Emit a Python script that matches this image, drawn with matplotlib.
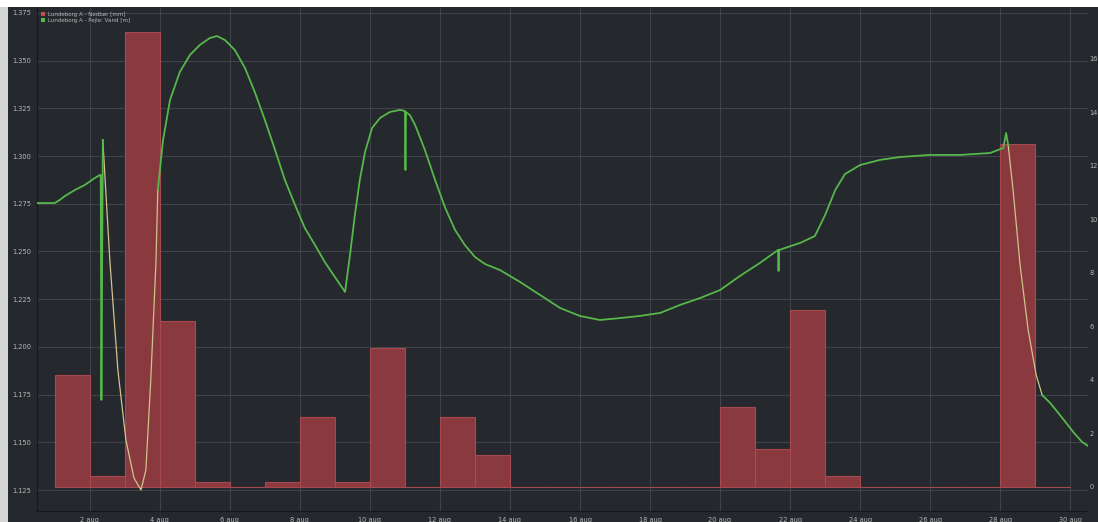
import matplotlib.pyplot as plt
from matplotlib.patches import Rectangle, Patch

# daglig nedbør (mm), dag i august
rain_days = [1, 2, 3, 4, 5, 6, 7, 8, 9, 10, 11, 12, 13, 14, 15, 16, 17, 18, 19,
             20, 21, 22, 23, 24, 25, 26, 27, 28, 29]
rain_mm = [4.2, 0.4, 17.0, 6.2, 0.2, 0.0, 0.2, 2.6, 0.2, 5.2, 0.0, 2.6, 1.2, 0.0, 0.0,
           0.0, 0.0, 0.0, 0.0, 3.0, 1.4, 6.6, 0.4, 0.0, 0.0, 0.0, 0.0, 12.8, 0.0]

# vandstand (m), målte stykker
lvl1_days = [0.49, 1.0, 1.14, 1.29, 1.57, 1.86, 2.14, 2.29, 2.31, 2.33, 2.35, 2.37]
lvl1_vals = [1.2754, 1.2754, 1.2770, 1.2791, 1.2822, 1.2849, 1.2885, 1.2901, 1.2901,
             1.1722, 1.2400, 1.3084]

lvl2_days = [3.94, 4.09, 4.29, 4.57, 4.86, 5.14, 5.43, 5.63, 5.86, 6.14, 6.43, 6.71,
             7.0, 7.29, 7.57, 7.86, 8.14, 8.43, 8.71, 9.0, 9.29, 9.43, 9.57, 9.71,
             9.86, 10.06, 10.29, 10.57, 10.86, 11.0, 11.014, 11.03, 11.14, 11.29,
             11.57, 11.86, 12.14, 12.43, 12.71, 13.0, 13.29, 13.71, 14.29, 14.86,
             15.43, 16.0, 16.57, 17.14, 17.71, 18.29, 18.86, 19.43, 20.0, 20.57,
             21.14, 21.657, 21.671, 21.686, 22.29, 22.71, 23.0, 23.29, 23.57, 24.0,
             24.57, 25.14, 26.0, 26.86, 27.71, 28.09, 28.17, 28.23]
lvl2_vals = [1.2822, 1.3084, 1.3294, 1.3441, 1.3530, 1.3582, 1.3619, 1.3629, 1.3608,
             1.3556, 1.3462, 1.3336, 1.3189, 1.3032, 1.2875, 1.2744, 1.2623, 1.2534,
             1.2445, 1.2366, 1.2288, 1.2482, 1.2691, 1.2875, 1.3021, 1.3147, 1.3200,
             1.3231, 1.3242, 1.3236, 1.2927, 1.3231, 1.3215, 1.3163, 1.3032, 1.2875,
             1.2733, 1.2613, 1.2534, 1.2471, 1.2434, 1.2403, 1.2340, 1.2272, 1.2204,
             1.2162, 1.2141, 1.2151, 1.2162, 1.2178, 1.2220, 1.2256, 1.2298, 1.2372,
             1.2440, 1.2508, 1.2398, 1.2508, 1.2545, 1.2581, 1.2691, 1.2822, 1.2906,
             1.2953, 1.2980, 1.2995, 1.3006, 1.3006, 1.3016, 1.3042, 1.3121, 1.3058]

lvl3_days = [29.2, 29.43, 29.66, 29.89, 30.11, 30.34, 30.51]
lvl3_vals = [1.1748, 1.1706, 1.1654, 1.1601, 1.1549, 1.1502, 1.1481]

# interpolerede huller (gul linje)
gap1_days = [2.37, 2.57, 2.8, 3.03, 3.26, 3.46, 3.6, 3.74, 3.89, 3.94]
gap1_vals = [1.3084, 1.2455, 1.1879, 1.1512, 1.1313, 1.1250, 1.1355, 1.1827, 1.2455, 1.2822]
gap2_days = [28.23, 28.37, 28.57, 28.8, 29.03, 29.2]
gap2_vals = [1.3058, 1.2822, 1.2429, 1.2089, 1.1853, 1.1748]

tick_days = [2, 4, 6, 8, 10, 12, 14, 16, 18, 20, 22, 24, 26, 28, 30]
tick_labels = [f"{d} aug" for d in tick_days]
level_ticks = [1.125, 1.150, 1.175, 1.200, 1.225, 1.250, 1.275, 1.300, 1.325, 1.350, 1.375]
rain_ticks = [0, 2, 4, 6, 8, 10, 12, 14, 16]

bg = '#25282d'
txt = '#b8b8b8'
grid_c = '#3f424a'

fig = plt.figure(figsize=(10.98, 5.22), dpi=100, facecolor=bg)
# lys kant til venstre og øverst
fig.patches.append(Rectangle((0, 0), 8 / 1098, 1, transform=fig.transFigure,
                             facecolor='#d4d4d4', edgecolor='none'))
fig.patches.append(Rectangle((0, 1 - 7 / 522), 1, 7 / 522, transform=fig.transFigure,
                             facecolor='white', edgecolor='none'))

pos = [37 / 1098, 11 / 522, 1051 / 1098, 503 / 522]
ax = fig.add_axes(pos)
ax.patch.set_visible(False)
axb = ax.twinx()
axl = ax.twinx()
for a in (axb, axl):
    a.patch.set_visible(False)

xlim = (0.49, 30.51)
ylim_lvl = (1.114, 1.3776)
ylim_rain = (-0.9, 17.9)

# gitter + venstre akse
ax.set_xlim(*xlim)
ax.set_ylim(*ylim_lvl)
ax.set_xticks(tick_days)
ax.set_xticklabels(tick_labels)
ax.set_yticks(level_ticks)
ax.set_yticklabels([f"{v:.3f}" for v in level_ticks])
ax.grid(True, color=grid_c, linewidth=0.8)
ax.tick_params(colors=txt, labelsize=4.8, length=0, pad=4)
ax.set_ylabel('Vandstand', color=txt, fontsize=4, labelpad=6)

# nedbør
axb.bar(rain_days, rain_mm, width=1.0, align='edge', color='#8a3a3f',
        edgecolor='#a8484f', linewidth=0.8)
axb.set_ylim(*ylim_rain)
axb.set_yticks(rain_ticks)
axb.tick_params(colors=txt, labelsize=4.8, length=0, pad=1)

# vandstand
axl.plot(gap1_days, gap1_vals, color='#cfc48a', linewidth=0.9)
axl.plot(gap2_days, gap2_vals, color='#cfc48a', linewidth=0.9)
for d, v in [(lvl1_days, lvl1_vals), (lvl2_days, lvl2_vals), (lvl3_days, lvl3_vals)]:
    axl.plot(d, v, color='#56b84a', linewidth=1.3)
axl.set_ylim(*ylim_lvl)
axl.set_yticks([])
axl.set_xlim(*xlim)

for a in (ax, axb, axl):
    for s in a.spines.values():
        s.set_visible(False)
ax.spines['bottom'].set_visible(True)
ax.spines['bottom'].set_color('#15171a')
ax.spines['left'].set_visible(True)
ax.spines['left'].set_color('#15171a')

handles = [Patch(facecolor='#c0504d', edgecolor='none'),
           Patch(facecolor='#56b84a', edgecolor='none')]
leg = axl.legend(handles, ['Lundeborg A - Nedbør [mm]', 'Lundeborg A - Pejle: Vand [m]'],
                 loc='upper left', frameon=False, fontsize=4, labelcolor=txt,
                 handlelength=0.8, handleheight=0.8, handletextpad=0.4,
                 borderaxespad=0.3, labelspacing=0.2)

fig.savefig('out.png', dpi=100, facecolor=fig.get_facecolor())
